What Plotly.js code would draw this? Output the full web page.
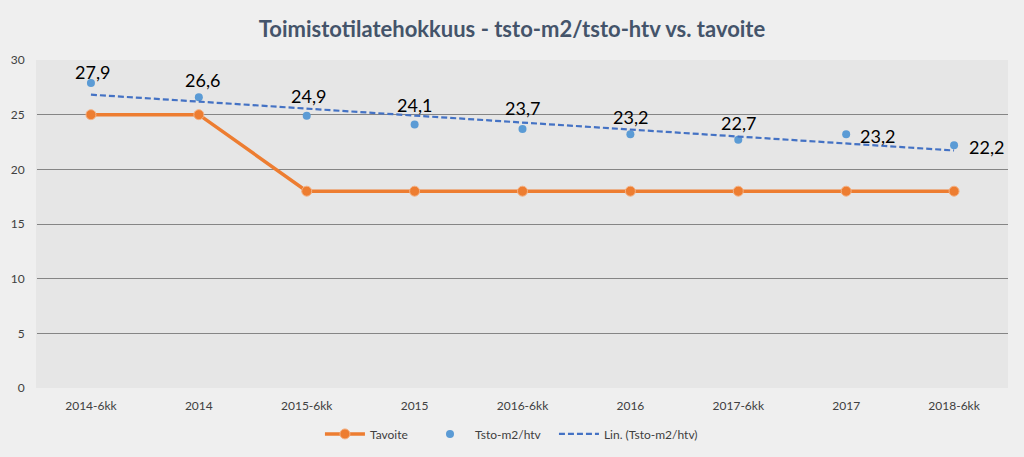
<!DOCTYPE html>
<html>
<head>
<meta charset="utf-8">
<script src="https://cdn.plot.ly/plotly-3.0.1.min.js"></script>
<style>html,body{margin:0;padding:0;background:#efefef;}#chart{width:1024px;height:457px;}</style>
</head>
<body>
<div id="chart"></div>
<script>
const categories = ["2014-6kk","2014","2015-6kk","2015","2016-6kk","2016","2017-6kk","2017","2018-6kk"];
const tavoite = [25,25,18,18,18,18,18,18,18];
const tsto = [27.9,26.6,24.9,24.1,23.7,23.2,22.7,23.2,22.2];
const tstoLabels = ["27,9","26,6","24,9","24,1","23,7","23,2","22,7","23,2","22,2"];
const yTicks = [0,5,10,15,20,25,30];

// Linear trendline (least squares) computed from the data, like Excel's "Lin." trend
const n = tsto.length;
const xs = tsto.map((_, i) => i + 1);
const mx = xs.reduce((a,b)=>a+b,0)/n;
const my = tsto.reduce((a,b)=>a+b,0)/n;
let sxy = 0, sxx = 0;
for (let i = 0; i < n; i++) { sxy += (xs[i]-mx)*(tsto[i]-my); sxx += (xs[i]-mx)**2; }
const slope = sxy/sxx, icpt = my - slope*mx;
const trend = xs.map(x => icpt + slope*x);

const font = "Lato, 'Open Sans', sans-serif";

// data labels: above the point, last two to the right of the point
const labelShiftY = [11, 17, 20, 20, 21, 17, 17, -2, -2];
const labelShiftX = [2, 4, 2, 0, 0, 0, 0, 31, 32];
const annotations = tsto.map((v, i) => ({
  x: i, y: v, xref: "x", yref: "y", text: tstoLabels[i], showarrow: false,
  xanchor: "center", yanchor: "middle",
  xshift: labelShiftX[i], yshift: labelShiftY[i],
  font: {family: font, size: 18, color: "#000000"}
}));

const traces = [
  {
    x: categories, y: tavoite, name: "Tavoite", type: "scatter", mode: "lines+markers",
    line: {color: "#ed7d31", width: 3.5},
    marker: {color: "#ed7d31", size: 10, line: {color: "#f4b183", width: 1}},
    legend: "legend"
  },
  {
    x: categories, y: tsto, name: "Tsto-m2/htv", type: "scatter", mode: "markers",
    marker: {color: "#5b9bd5", size: 8},
    legend: "legend2"
  },
  {
    x: categories, y: trend, name: "Lin. (Tsto-m2/htv)", type: "scatter", mode: "lines",
    line: {color: "#4472c4", width: 2.2, dash: "6px,3px"}, hoverinfo: "skip",
    legend: "legend3"
  }
];

const legendBase = {orientation: "h", xanchor: "left", y: -0.14, yanchor: "middle",
  font: {family: font, size: 12, color: "#404040"}, bgcolor: "rgba(0,0,0,0)", borderwidth: 0,
  itemwidth: 40};

const layout = {
  width: 1024, height: 457,
  paper_bgcolor: "#efefef", plot_bgcolor: "#e6e6e6",
  margin: {l: 37, r: 16, t: 60, b: 69, autoexpand: false},
  title: {text: "<b>Toimistotilatehokkuus - tsto-m2/tsto-htv vs. tavoite</b>",
          font: {family: font, size: 22, color: "#44546a"}, x: 0.5, xanchor: "center", y: 0.935, yanchor: "middle"},
  xaxis: {type: "category", categoryorder: "array", categoryarray: categories,
          range: [-0.5, categories.length - 0.5], autorange: false,
          showgrid: false, zeroline: false, showline: false,
          tickfont: {family: font, size: 12, color: "#404040"}, ticks: "", ticklen: 0,
          ticklabelstandoff: 9},
  yaxis: {range: [0, 30], autorange: false, tickvals: yTicks, ticktext: yTicks.map(String), showgrid: true,
          gridcolor: "#858585", gridwidth: 1, zeroline: false,
          showline: true, linecolor: "#e6e6e6", linewidth: 0,
          tickfont: {family: font, size: 12, color: "#404040"}, ticks: "", ticklen: 0,
          ticklabelstandoff: 9},
  legend: Object.assign({}, legendBase, {x: 0.2914}),
  legend2: Object.assign({}, legendBase, {x: 0.3996}),
  legend3: Object.assign({}, legendBase, {x: 0.5324}),
  annotations: annotations,
  showlegend: true
};

Plotly.newPlot("chart", traces, layout, {displayModeBar: false, staticPlot: true});
</script>
</body>
</html>
